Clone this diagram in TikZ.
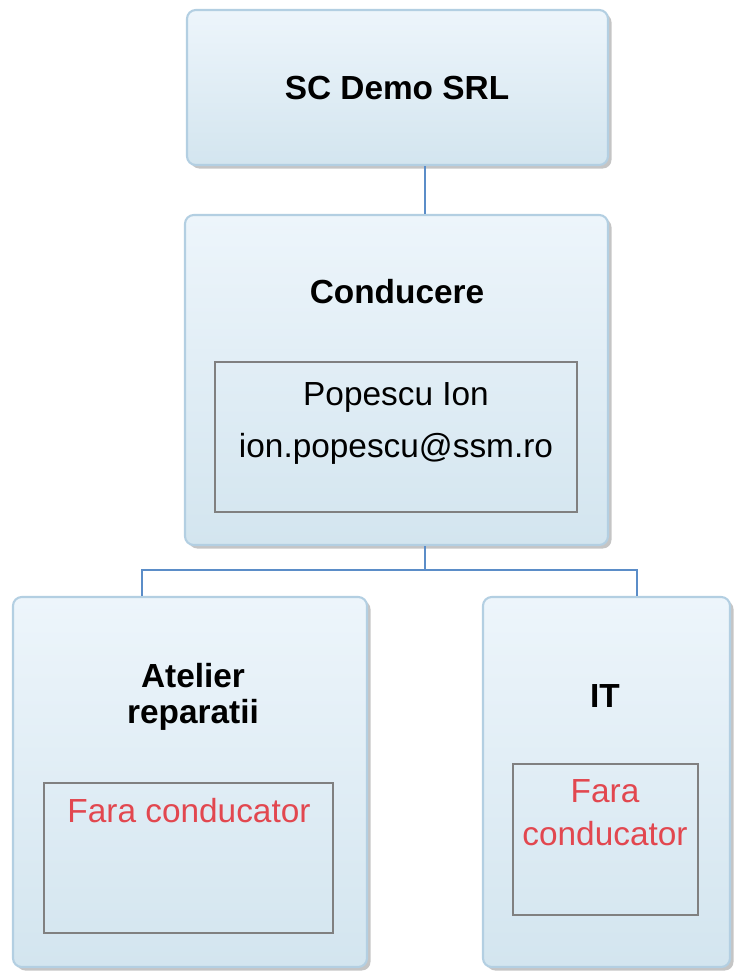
\documentclass[tikz,border=0pt]{standalone}
\usepackage{fontspec}
\setmainfont{Liberation Sans}
\usetikzlibrary{shadows}

\definecolor{boxtop}{HTML}{EDF5FB}
\definecolor{boxbot}{HTML}{D3E5EF}
\definecolor{boxline}{HTML}{B3CFE2}
\definecolor{linkblue}{HTML}{5B8DC8}
\definecolor{nochief}{HTML}{E2474F}

\tikzset{
  unit/.style={draw=boxline, line width=1.2pt, rounded corners=5pt,
    top color=boxtop, bottom color=boxbot,
    drop shadow={shadow xshift=2pt, shadow yshift=-2pt, fill=black!45},
    inner sep=0pt},
  chief/.style={draw=black!50, line width=0.6pt, inner sep=0pt},
  head/.style={font=\fontsize{19}{20.4}\selectfont\bfseries, align=center, anchor=base, inner sep=0pt},
  info/.style={font=\fontsize{19}{29.5}\selectfont, align=center, anchor=base, inner sep=0pt},
  link/.style={draw=linkblue, line width=0.8pt},
}

\begin{document}
\begin{tikzpicture}[x=0.02cm,y=-0.02cm]
    \useasboundingbox (0,0) rectangle (734,973);
    % boxes
    \node[unit, minimum width=421*0.02cm, minimum height=155*0.02cm] (firma) at (397.5,87.5) {};
    \node[unit, minimum width=423*0.02cm, minimum height=330*0.02cm] (cond) at (396.5,380) {};
    \node[unit, minimum width=354*0.02cm, minimum height=370*0.02cm] (atelier) at (190,782) {};
    \node[unit, minimum width=247*0.02cm, minimum height=370*0.02cm] (it) at (606.5,782) {};
    % inner boxes
    \node[chief, minimum width=362*0.02cm, minimum height=150*0.02cm] (condsef) at (396,437) {};
    \node[chief, minimum width=289*0.02cm, minimum height=150*0.02cm] (ateliersef) at (188.5,858) {};
    \node[chief, minimum width=185*0.02cm, minimum height=151*0.02cm] (itsef) at (605.5,839.5) {};
    % titles (base = last line)
    \node[head] (firmat) at (397,100) {SC Demo SRL};
    \node[head] (condt) at (397,303) {Conducere};
    \node[head] (ateliert) at (193,723) {Atelier\\reparatii};
    \node[head] (itt) at (605,707) {IT};
    % heads of units
    \node[info] (condnume) at (396,457) {Popescu Ion\\ion.popescu@ssm.ro};
    \node[info, text=nochief] (ateliernume) at (189,822) {Fara conducator};
    \node[info, text=nochief, font=\fontsize{19}{24.4}\selectfont] (itnume) at (605,845) {Fara\\conducator};
    % connectors
    \coordinate (trunk) at (425,0);
    \coordinate (bus) at (425,570);
    \coordinate (lt) at (142,0);
    \coordinate (rt) at (637,0);
    \draw[link] (firma.south -| trunk) -- (cond.north -| trunk);
    \draw[link] (cond.south -| trunk) -- (bus);
    \draw[link] (atelier.north -| lt) |- (bus) -| (it.north -| rt);
\end{tikzpicture}
\end{document}
